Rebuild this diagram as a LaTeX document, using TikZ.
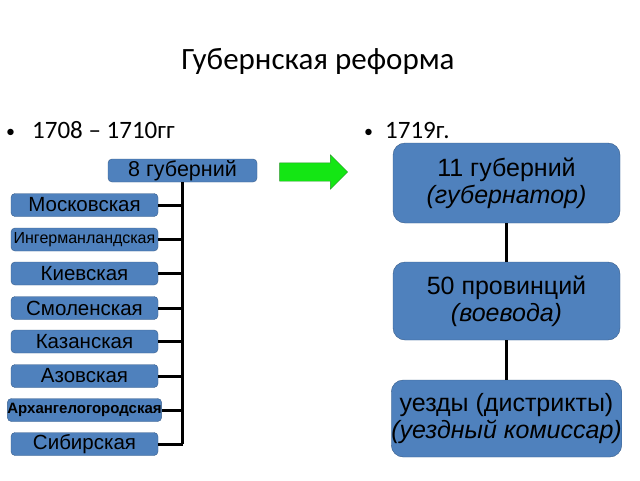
\documentclass[tikz,border=0pt]{standalone}
\usepackage{fontspec}
\setmainfont{Liberation Sans}
\newfontfamily\titlefont{Carlito}
\usetikzlibrary{shapes.arrows}
\definecolor{boxblue}{RGB}{79,129,189}
\definecolor{boxedge}{RGB}{56,93,138}
\definecolor{arrgreen}{RGB}{20,230,20}
\definecolor{arredge}{RGB}{40,150,40}

\begin{document}
\begin{tikzpicture}[x=1pt, y=-1pt,
	gub/.style={draw=boxedge, fill=boxblue, rounded corners=4, minimum width=147, minimum height=23, inner sep=0, font=\fontsize{20.5}{22}\selectfont},
	big/.style={draw=boxedge, fill=boxblue, rounded corners=12, minimum width=227, minimum height=78, inner sep=0, align=center, font=\fontsize{25}{27}\selectfont},
	link/.style={line width=3}]
	\useasboundingbox (0,0) rectangle (640,480);
	\node[anchor=base, inner sep=0, font=\titlefont\fontsize{31}{34}\selectfont] (title) at (318,69) {Губернская реформа};
	\node[anchor=base west, inner sep=0, font=\titlefont\fontsize{25}{28}\selectfont] (left) at (6,138) {\makebox[26pt][l]{\fontsize{18}{18}\selectfont\raisebox{1pt}{•}}1708 – 1710гг};
	\node[anchor=base west, inner sep=0, font=\titlefont\fontsize{25}{28}\selectfont] (right) at (364,138) {\makebox[21pt][l]{\fontsize{18}{18}\selectfont\raisebox{1pt}{•}}1719г.};

	\node[gub, minimum width=149, font=\fontsize{21.5}{23}\selectfont] (top) at (182.5,170.5) {8 губерний};
	\node[gub] (g1) at (84.5,205) {Московская};
	\node[gub, font=\fontsize{16}{18}\selectfont] (g2) at (84.5,239.5) {Ингерманландская};
	\node[gub] (g3) at (84.5,273.5) {Киевская};
	\node[gub] (g4) at (84.5,308) {Смоленская};
	\node[gub] (g5) at (84.5,341.5) {Казанская};
	\node[gub] (g6) at (84.5,376) {Азовская};
	\node[gub, font=\fontsize{15}{17}\selectfont\bfseries] (g7) at (84.5,410) {Архангелогородская};
	\node[gub] (g8) at (84.5,444) {Сибирская};
	\draw[link] (top.south) -- (top.south |- g8.east);
	\foreach \i in {1,...,8}
		\draw[link] (g\i.east) -- (g\i.east -| top.south);

	\node[single arrow, draw=arredge, fill=arrgreen, minimum height=68, single arrow head extend=8, inner sep=9] (arr) at (309,172) {};

	\node[big, minimum height=80] (r1) at (506.5,183) {11 губерний\\\textit{(губернатор)}};
	\node[big] (r2) at (506.5,301) {50 провинций\\\textit{(воевода)}};
	\node[big, minimum height=77] (r3) at (506.5,418.5) {уезды (дистрикты)\\\textit{(уездный комиссар)}};
	\draw[link] (r1) -- (r2);
	\draw[link] (r2) -- (r3);
\end{tikzpicture}
\end{document}
